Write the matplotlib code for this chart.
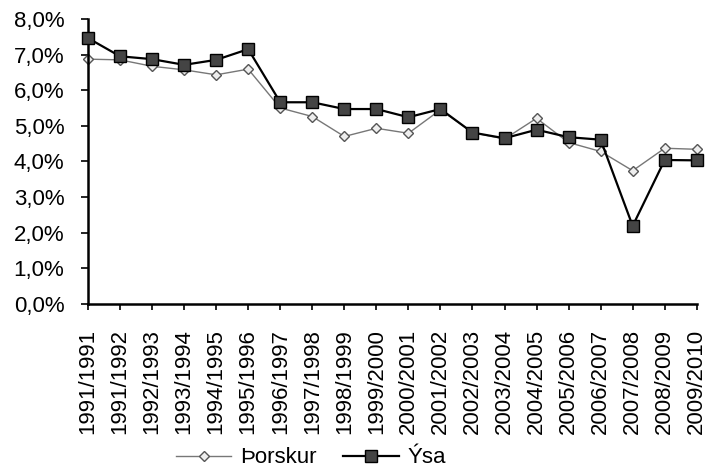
import matplotlib
matplotlib.use('Agg')
import matplotlib.pyplot as plt
from matplotlib.ticker import FuncFormatter

plt.rcParams['font.family'] = ['Liberation Sans', 'DejaVu Sans']

# Fiskveiðiár
years = ["1991/1991", "1991/1992", "1992/1993", "1993/1994", "1994/1995",
         "1995/1996", "1996/1997", "1997/1998", "1998/1999", "1999/2000",
         "2000/2001", "2001/2002", "2002/2003", "2003/2004", "2004/2005",
         "2005/2006", "2006/2007", "2007/2008", "2008/2009", "2009/2010"]

# values in percent
thorskur = [6.87, 6.85, 6.67, 6.57, 6.43, 6.59, 5.50, 5.26, 4.70, 4.93,
            4.79, 5.45, 4.81, 4.63, 5.21, 4.53, 4.28, 3.74, 4.37, 4.34]
ysa = [7.46, 6.95, 6.87, 6.71, 6.85, 7.15, 5.66, 5.66, 5.47, 5.47,
       5.24, 5.47, 4.81, 4.65, 4.89, 4.68, 4.61, 2.19, 4.04, 4.03]

yticks = [0, 1, 2, 3, 4, 5, 6, 7, 8]

fig = plt.figure(figsize=(7.07, 4.72), dpi=100)
ax = fig.add_axes([0.1245, 0.356, 0.861, 0.604])

x = list(range(len(years)))
ax.plot(x, thorskur, color='#777777', linewidth=1.0, marker='D', markersize=5,
        markerfacecolor='#eeeeee', markeredgecolor='#555555', markeredgewidth=1.0,
        label='Þorskur', zorder=2)
ax.plot(x, ysa, color='black', linewidth=1.6, marker='s', markersize=8,
        markerfacecolor='#444444', markeredgecolor='black', markeredgewidth=1.0,
        label='Ýsa', zorder=3)

ax.set_xlim(0, len(years) - 1)
ax.set_ylim(0, 8)
ax.set_yticks(yticks)
ax.yaxis.set_major_formatter(FuncFormatter(lambda v, p: f"{v:.1f}".replace('.', ',') + '%'))
ax.set_xticks(x)
ax.set_xticklabels(years, rotation=90)

for s in ['top', 'right']:
    ax.spines[s].set_visible(False)
for s in ['left', 'bottom']:
    ax.spines[s].set_linewidth(1.8)
    ax.spines[s].set_color('black')

ax.tick_params(axis='y', direction='out', length=5, width=1.2, pad=12, labelsize=16)
ax.tick_params(axis='x', direction='out', length=4, width=1.2, pad=14, labelsize=16)
for line in ax.get_lines():
    line.set_clip_on(False)

fig.legend(loc='center', bbox_to_anchor=(0.44, 0.03), ncol=2, frameon=False,
           fontsize=16, handlelength=2.5, columnspacing=1.2, handletextpad=0.4)

fig.savefig('out.png', dpi=100)
